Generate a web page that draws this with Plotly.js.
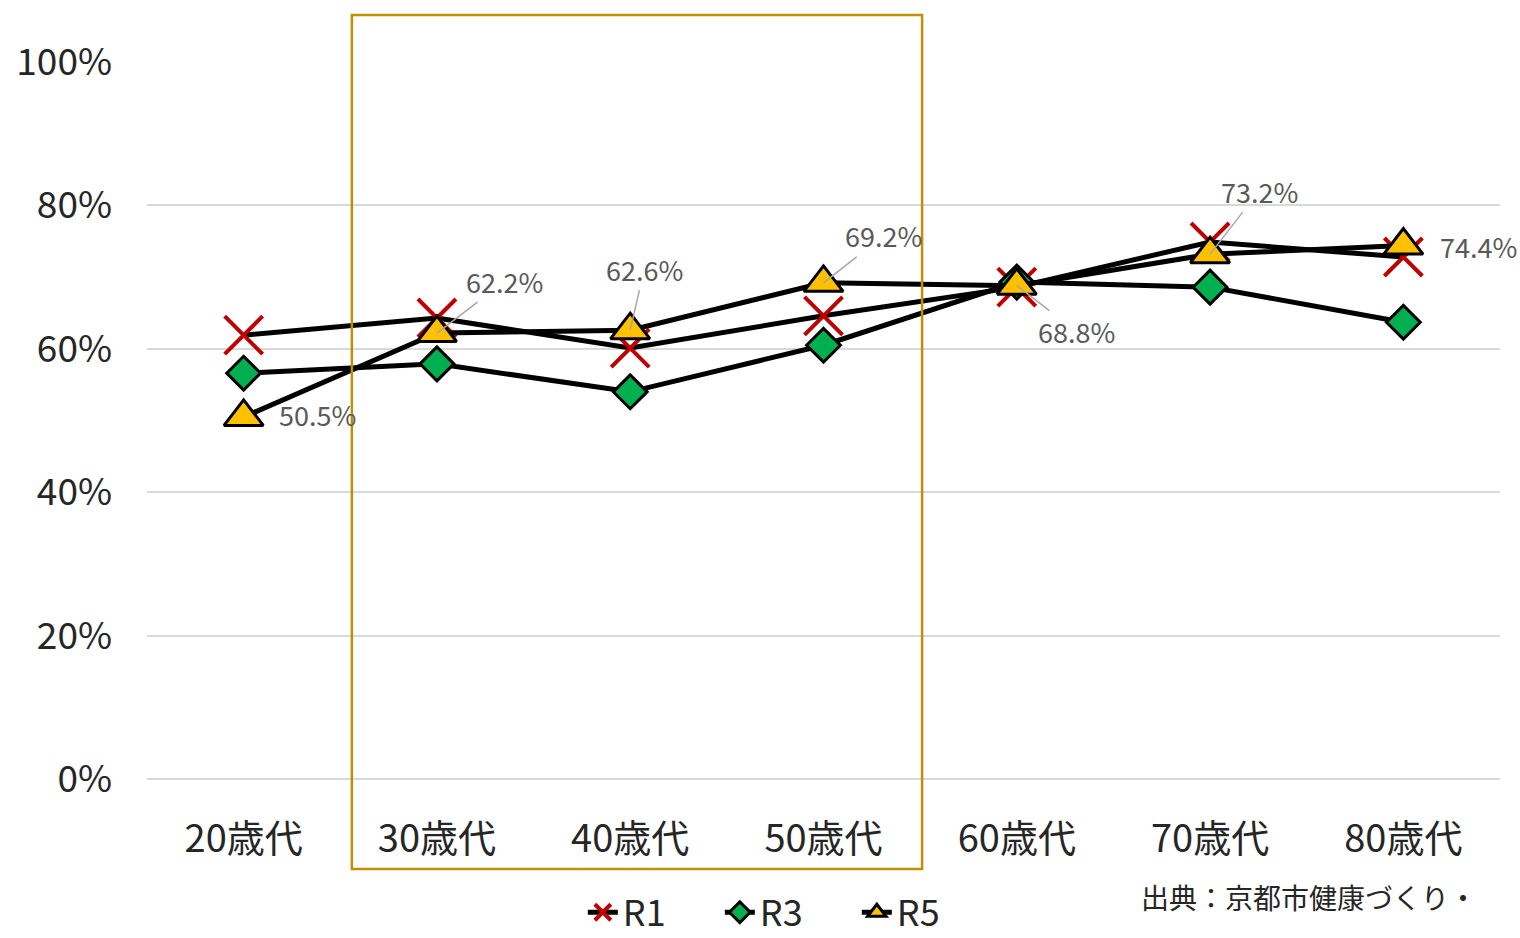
<!DOCTYPE html>
<html>
<head>
<meta charset="utf-8">
<script src="https://cdn.plot.ly/plotly-3.0.1.min.js"></script>
<style>html,body{margin:0;padding:0;background:#fff;}#chart{width:1520px;height:938px;}</style>
</head>
<body>
<div id="chart"></div>
<script>
const categories = ['20歳代','30歳代','40歳代','50歳代','60歳代','70歳代','80歳代'];
const r1 = [0.619, 0.643, 0.601, 0.646, 0.686, 0.749, 0.728];
const r3 = [0.566, 0.579, 0.540, 0.605, 0.693, 0.686, 0.637];
const r5 = [0.505, 0.622, 0.626, 0.692, 0.688, 0.732, 0.744];
const sourceText = '出典：京都市健康づくり・';

const FONT = '"Noto Sans CJK JP", "Noto Sans", sans-serif';

const traces = [
  {name:'R1', x:categories, y:r1, type:'scatter', mode:'lines+markers',
   line:{color:'#000000', width:5},
   marker:{symbol:'x-thin', size:38, color:'#c00000', line:{color:'#c00000', width:4}}},
  {name:'R3', x:categories, y:r3, type:'scatter', mode:'lines+markers',
   line:{color:'#000000', width:5},
   marker:{symbol:'diamond', size:26, color:'#00b050', line:{color:'#000000', width:3}}},
  {name:'R5', x:categories, y:r5, type:'scatter', mode:'lines+markers',
   line:{color:'#000000', width:5},
   marker:{symbol:'triangle-up', size:34, color:'#ffc000', line:{color:'#000000', width:3}}}
];

// label offsets (px) for R5 data labels: [ax, ay, arrow]
const labelPos = [[74,-2,false],[68,-52,true],[14,-61,true],[60,-47,true],[60,46,true],[49,-63,true],[75,1,false]];
const annotations = r5.map((v,i)=>({
  x: categories[i], y: v, xref:'x', yref:'y',
  text: (v*100).toFixed(1)+'%',
  showarrow: labelPos[i][2], arrowhead:0, arrowwidth:1.5, arrowcolor:'#a6a6a6',
  ax: labelPos[i][0], ay: labelPos[i][1],
  xshift: labelPos[i][2] ? 0 : labelPos[i][0],
  yshift: labelPos[i][2] ? 0 : -labelPos[i][1],
  font:{family:FONT, size:27, color:'#595959'}
}));
annotations.push({
  xref:'paper', yref:'paper', x:0.733, y:-0.165, xanchor:'left', yanchor:'middle',
  text: sourceText, showarrow:false, font:{family:FONT, size:28, color:'#262626'}
});

const layout = {
  width:1520, height:938,
  margin:{l:147, r:20, t:62, b:159, autoexpand:false},
  paper_bgcolor:'#ffffff', plot_bgcolor:'#ffffff',
  font:{family:FONT, color:'#262626'},
  showlegend:true,
  legend:{orientation:'h', x:0.474, xanchor:'center', y:-0.186, yanchor:'middle',
          font:{family:FONT, size:36, color:'#262626'}, entrywidth:92, entrywidthmode:'pixels'},
  xaxis:{type:'category', range:[-0.5,6.5], showgrid:false, zeroline:false, showline:false,
         ticks:'', tickfont:{family:FONT, size:38, color:'#262626'}, ticklabelstandoff:34,
         fixedrange:true},
  yaxis:{range:[0,1.0], tickvals:[0,0.2,0.4,0.6,0.8,1.0], tickformat:'.0%',
         showgrid:true, gridcolor:'#d9d9d9', gridwidth:2, zeroline:true, zerolinecolor:'#d9d9d9', zerolinewidth:2,
         showline:false, ticks:'', tickfont:{family:FONT, size:37, color:'#262626'}, ticklabelstandoff:34,
         fixedrange:true},
  shapes:[{type:'rect', xref:'x', yref:'paper', x0:0.56, x1:3.51, y0:-0.1255, y1:1.0656,
           line:{color:'#bf9000', width:2.5}, fillcolor:'rgba(0,0,0,0)', layer:'above'}],
  annotations: annotations
};

Plotly.newPlot('chart', traces, layout, {displayModeBar:false, staticPlot:true});
</script>
</body>
</html>
